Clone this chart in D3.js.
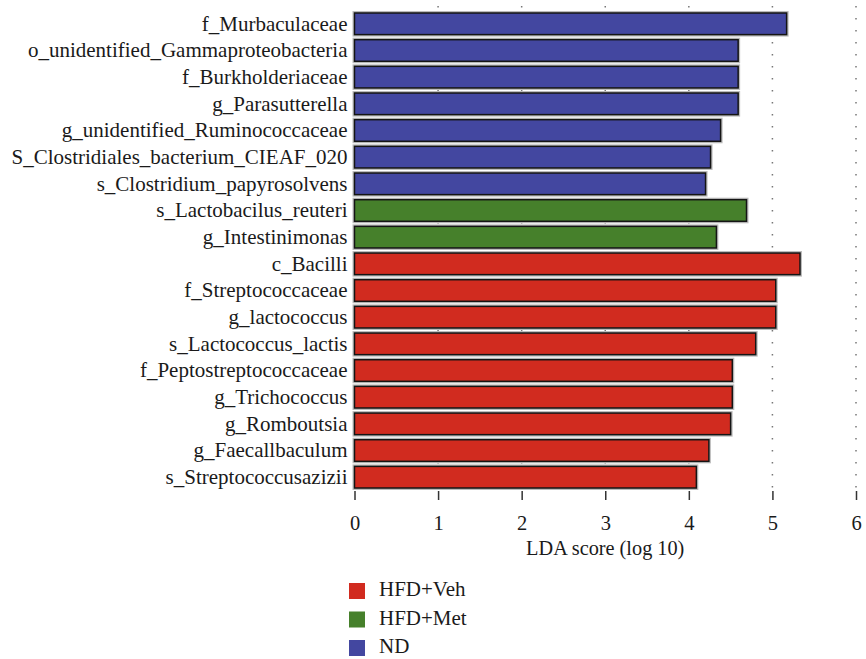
<!DOCTYPE html>
<html>
<head>
<meta charset="utf-8">
<script src="https://cdn.jsdelivr.net/npm/d3@7"></script>
<style>
  body { margin: 0; background: #fff; }
  svg text { font-family: "Times New Roman", "Liberation Serif", Times, "DejaVu Serif", serif !important; }
</style>
</head>
<body>
<div id="chart"></div>
<script>
const taxa = [
  'f_Murbaculaceae',
  'o_unidentified_Gammaproteobacteria',
  'f_Burkholderiaceae',
  'g_Parasutterella',
  'g_unidentified_Ruminococcaceae',
  'S_Clostridiales_bacterium_CIEAF_020',
  's_Clostridium_papyrosolvens',
  's_Lactobacilus_reuteri',
  'g_Intestinimonas',
  'c_Bacilli',
  'f_Streptococcaceae',
  'g_lactococcus',
  's_Lactococcus_lactis',
  'f_Peptostreptococcaceae',
  'g_Trichococcus',
  'g_Romboutsia',
  'g_Faecallbaculum',
  's_Streptococcusazizii'
];
const ldaScores = [5.17, 4.59, 4.59, 4.59, 4.38, 4.26, 4.20, 4.69, 4.33,
  5.33, 5.04, 5.04, 4.80, 4.52, 4.52, 4.50, 4.24, 4.09];
const taxonGroups = ['ND', 'ND', 'ND', 'ND', 'ND', 'ND', 'ND', 'HFD+Met', 'HFD+Met',
  'HFD+Veh', 'HFD+Veh', 'HFD+Veh', 'HFD+Veh', 'HFD+Veh', 'HFD+Veh', 'HFD+Veh', 'HFD+Veh', 'HFD+Veh'];
const groups = ['HFD+Veh', 'HFD+Met', 'ND'];
const groupColors = ['#d12b1f', '#46802b', '#4347a0'];
const xTicks = [0, 1, 2, 3, 4, 5, 6];

const width = 866;
const height = 659;

const svg = d3.select('#chart')
  .append('svg')
  .attr('width', width)
  .attr('height', height);

const x = d3.scaleLinear()
  .domain([0, 6])
  .range([354.5, 856]);

const y = d3.scaleBand()
  .domain(taxa)
  .range([13, 488])
  .paddingInner(0.19)
  .paddingOuter(0);

const color = d3.scaleOrdinal()
  .domain(groups)
  .range(groupColors);

const axisY = 491;

// dotted vertical grid
svg.append('g')
  .selectAll('line')
  .data(xTicks.slice(1))
  .enter()
  .append('line')
  .attr('x1', d => x(d))
  .attr('x2', d => x(d))
  .attr('y1', 6)
  .attr('y2', axisY)
  .attr('stroke', '#777')
  .attr('stroke-width', 1.5)
  .attr('stroke-dasharray', '1.5,10.5');

const data = taxa.map((name, i) => ({ name, score: ldaScores[i], group: taxonGroups[i] }));

// bars (soft halo + dark outline)
svg.append('g')
  .selectAll('rect')
  .data(data)
  .enter()
  .append('rect')
  .attr('x', x(0) - 0.5)
  .attr('y', d => y(d.name) - 0.5)
  .attr('width', d => x(d.score) - x(0) + 1)
  .attr('height', y.bandwidth() + 1)
  .attr('fill', 'none')
  .attr('stroke', '#bbb')
  .attr('stroke-width', 3);

svg.append('g')
  .selectAll('rect')
  .data(data)
  .enter()
  .append('rect')
  .attr('x', x(0))
  .attr('y', d => y(d.name))
  .attr('width', d => x(d.score) - x(0))
  .attr('height', y.bandwidth())
  .attr('fill', d => color(d.group))
  .attr('stroke', '#151515')
  .attr('stroke-width', 1.5);

// taxon labels
svg.append('g')
  .selectAll('text')
  .data(data)
  .enter()
  .append('text')
  .attr('x', x(0) - 7)
  .attr('y', d => y(d.name) + y.bandwidth() / 2)
  .attr('dy', '0.33em')
  .attr('text-anchor', 'end')
  .attr('font-size', '21px')
  .attr('fill', '#1a1a1a')
  .text(d => d.name);

// x axis
const xAxis = svg.append('g')
  .attr('transform', `translate(0,${axisY})`)
  .call(d3.axisBottom(x).tickValues(xTicks).tickFormat(d3.format('d')).tickSize(9).tickPadding(15.5));

xAxis.select('.domain').remove();
xAxis.selectAll('.tick line')
  .attr('stroke', '#333')
  .attr('stroke-width', 1.5);
xAxis.selectAll('.tick text')
  .attr('font-size', '20.5px')
  .attr('fill', '#1a1a1a');

svg.append('text')
  .attr('x', (x(0) + x(6)) / 2)
  .attr('y', 555)
  .attr('text-anchor', 'middle')
  .attr('font-size', '20.3px')
  .attr('fill', '#1a1a1a')
  .text('LDA score (log 10)');

// legend
const legend = svg.append('g')
  .attr('transform', 'translate(349,583)');

groups.forEach((g, i) => {
  const row = legend.append('g')
    .attr('transform', `translate(0, ${i * 28.5})`);

  row.append('rect')
    .attr('width', 16)
    .attr('height', 16)
    .attr('fill', color(g));

  row.append('text')
    .attr('x', 30)
    .attr('y', 8)
    .attr('dy', '0.26em')
    .attr('font-size', '21px')
    .attr('fill', '#1a1a1a')
    .text(g);
});
</script>
</body>
</html>
